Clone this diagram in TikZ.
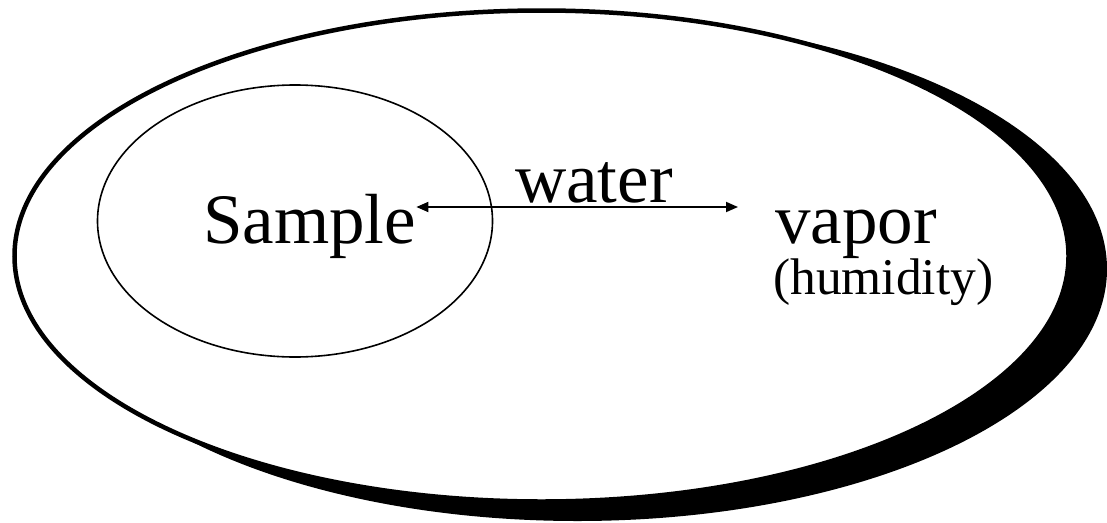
\documentclass[tikz,border=0pt]{standalone}
\usepackage{fontspec}
\setmainfont{Liberation Serif}
\usetikzlibrary{shapes.geometric,arrows.meta}

\begin{document}
\begin{tikzpicture}[x=1pt,y=-1pt,
  shadeoval/.style={ellipse, fill=black, inner sep=0pt, minimum width=1059pt, minimum height=504pt},
  chamber/.style={ellipse, draw, line width=4.5pt, fill=white, minimum width=1054pt, minimum height=491pt},
  samplebox/.style={ellipse, draw, line width=1.6pt, minimum width=395pt, minimum height=272pt},
  bigtext/.style={font=\fontsize{71}{75}\selectfont, inner sep=0pt},
  smalltext/.style={font=\fontsize{51.5}{56}\selectfont, inner sep=0pt},
  flow/.style={{Triangle[length=12pt,width=10pt]}-{Triangle[length=12pt,width=10pt]}, line width=1.8pt}
]
\useasboundingbox (0,0) rectangle (1107,522);

% shadow behind the chamber
\node[shadeoval] (shade) at (577.5,269) {};
\node[chamber] (room) at (541.5,256) {};
\node[samplebox] (sbox) at (295,221) {};

\node[bigtext, anchor=base west] (sample) at (203,243) {Sample};
\node[bigtext, anchor=base west] (water) at (515,202) {water};
\node[bigtext, anchor=base west] (vapor) at (775,243) {vapor};
\node[smalltext, anchor=base west] (humid) at (773,294) {(humidity)};

\draw[flow, shorten >=37pt] (sample.east |- 0,207) -- (vapor.west |- 0,207);
\end{tikzpicture}
\end{document}
